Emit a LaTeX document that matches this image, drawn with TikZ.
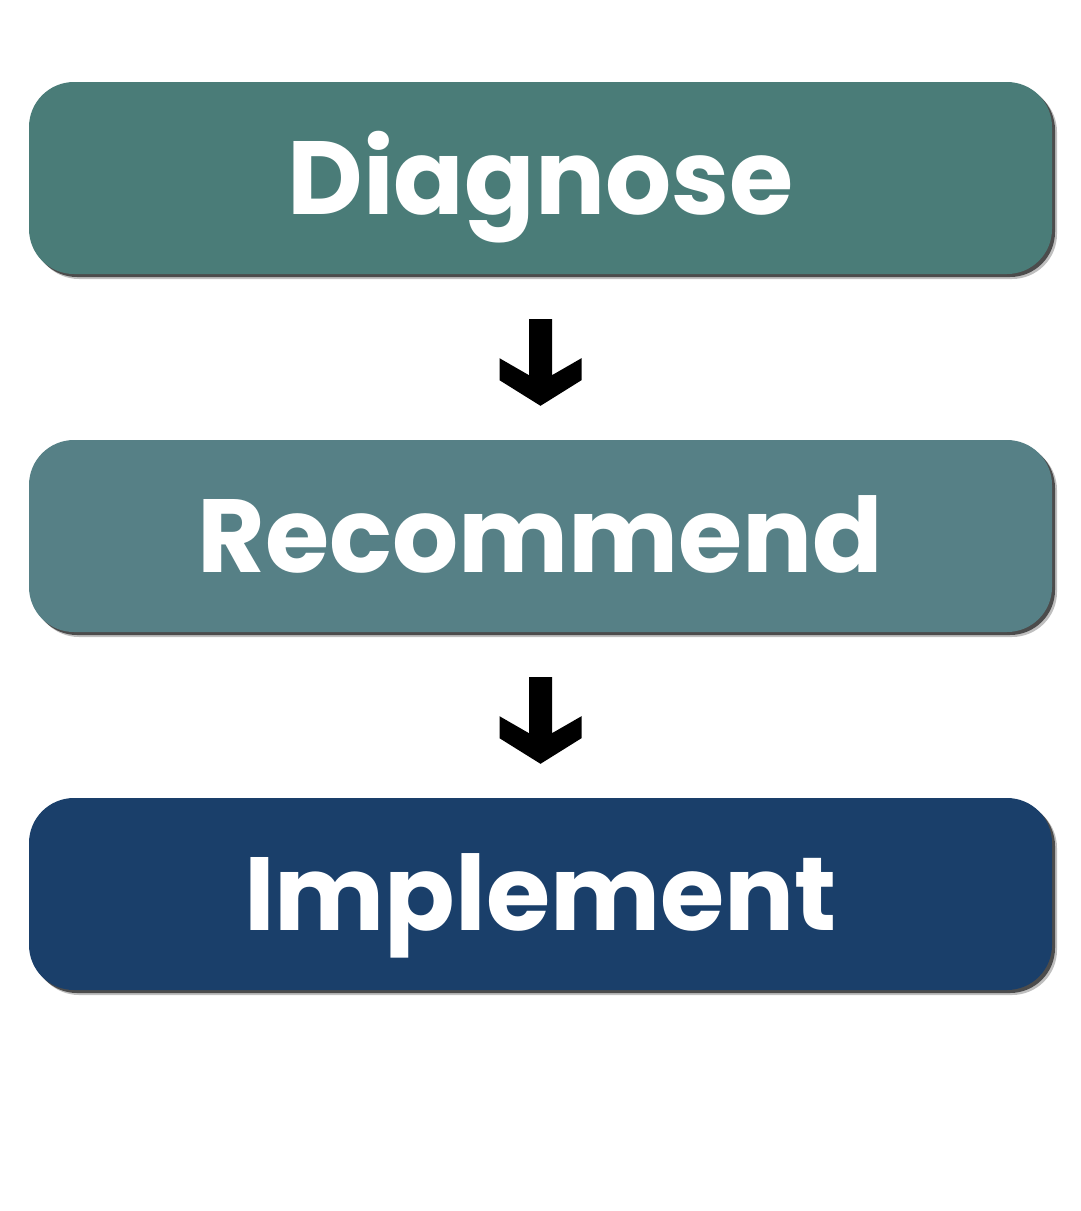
\documentclass[tikz,border=0pt]{standalone}
\usepackage{fontspec}
\setmainfont{Poppins}[BoldFont={* Bold}]
\usetikzlibrary{shadows,calc}
\definecolor{cA}{HTML}{4A7C78}
\definecolor{cB}{HTML}{568086}
\definecolor{cC}{HTML}{1A3F6A}
\tikzset{
  stagebox/.style={rounded corners=45pt, minimum width=1023pt, minimum height=192pt,
    inner sep=0pt, text height=72pt, text depth=0pt, text=white,
    font=\fontsize{104}{110}\selectfont\bfseries,
    general shadow={shadow xshift=5pt, shadow yshift=-5pt, fill=black!25},
    general shadow={shadow xshift=3pt, shadow yshift=-3pt, fill=black!70}},
  flowarrow/.style={fill=black}
}
\begin{document}
\begin{tikzpicture}[x=1pt,y=-1pt]
\useasboundingbox (0,0) rectangle (1080,1211);
\node[stagebox, fill=cA] (d) at (540.5,178) {Diagnose};
\node[stagebox, fill=cB] (r) at (540.5,536) {Recommend};
\node[stagebox, fill=cC] (m) at (540.5,894) {Implement};
\foreach \a/\b in {d/r, r/m}{
  \coordinate (s) at ($(\a.south)+(0,45)$);
  \fill[flowarrow] ($(s)+(-11.5,0)$) -- ($(s)+(11.5,0)$) -- ($(s)+(11.5,56)$)
    -- ($(s)+(41,39)$) -- ($(s)+(41,61)$) -- ($(\b.north)+(0,-34)$)
    -- ($(s)+(-41,61)$) -- ($(s)+(-41,39)$) -- ($(s)+(-11.5,56)$) -- cycle;
}
\end{tikzpicture}
\end{document}
